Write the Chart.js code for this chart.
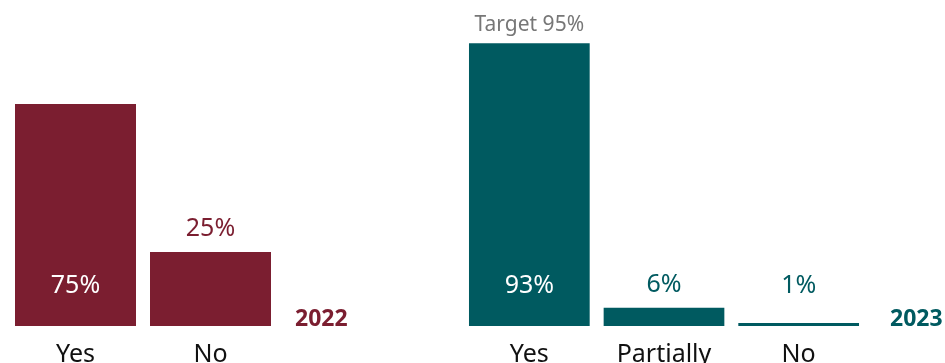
<!DOCTYPE html>
<html>
<head>
<meta charset="utf-8">
<script src="https://cdn.jsdelivr.net/npm/chart.js@4/dist/chart.umd.min.js"></script>
<style>
  html, body { margin: 0; padding: 0; background: #fff; overflow: hidden; width: 945px; height: 363px; }
  canvas { position: absolute; top: 0; }
  #c2022 { left: 0; }
  #c2023 { left: 450px; }
</style>
</head>
<body>
<canvas id="c2022" width="450" height="384"></canvas>
<canvas id="c2023" width="495" height="384"></canvas>
<script>
// 2022 survey
const labels2022 = ['Yes', 'No'];
const values2022 = [75, 25];
// 2023 survey
const labels2023 = ['Yes', 'Partially', 'No'];
const values2023 = [93, 6, 1];
const target2023 = 95;

const maroon = 'rgb(123, 30, 48)';
const teal = 'rgb(0, 90, 96)';
const fontFam = '"Noto Sans", sans-serif';

/* percentage labels: white inside tall bars, coloured above short ones */
const valueLabels = {
  id: 'valueLabels',
  afterDatasetsDraw(chart) {
    const ctx = chart.ctx;
    const ds = chart.data.datasets[0];
    chart.getDatasetMeta(0).data.forEach((bar, i) => {
      const h = bar.base - bar.y;
      const inside = h > 150;
      const y = inside ? bar.base - 40 : Math.min(bar.base - 40, bar.y - 23);
      ctx.save();
      ctx.font = '25px ' + fontFam;
      ctx.textAlign = 'center';
      ctx.textBaseline = 'middle';
      ctx.fillStyle = inside ? '#fff' : ds.backgroundColor;
      ctx.fillText(ds.data[i] + '%', bar.x, y);
      ctx.restore();
    });
  },
  afterDraw(chart, args, opts) {
    const ctx = chart.ctx;
    const area = chart.chartArea;
    ctx.save();
    ctx.font = 'bold 23px ' + fontFam;
    ctx.textAlign = 'left';
    ctx.textBaseline = 'alphabetic';
    ctx.fillStyle = opts.color;
    ctx.fillText(opts.year, area.right + opts.gap, area.bottom);
    if (opts.target) {
      const bar = chart.getDatasetMeta(0).data[0];
      const y = chart.scales.y.getPixelForValue(opts.target);
      ctx.font = '21px ' + fontFam;
      ctx.textAlign = 'center';
      ctx.fillStyle = '#777';
      ctx.fillText('Target ' + opts.target + '%', bar.x, y - 6);
    }
    ctx.restore();
  }
};

function makeChart(id, labels, values, color, pad, opts) {
  return new Chart(document.getElementById(id), {
    type: 'bar',
    data: {
      labels: labels,
      datasets: [{
        data: values,
        backgroundColor: color,
        categoryPercentage: 1,
        barPercentage: 121 / 135
      }]
    },
    options: {
      responsive: false,
      animation: false,
      layout: { padding: pad },
      plugins: {
        legend: { display: false },
        tooltip: { enabled: false },
        valueLabels: opts
      },
      scales: {
        y: { display: false, min: 0, max: 100 },
        x: {
          grid: { display: false, drawTicks: false },
          border: { display: false },
          ticks: { color: '#111', padding: 14, font: { family: fontFam, size: 25 } }
        }
      }
    },
    plugins: [valueLabels]
  });
}

makeChart('c2022', labels2022, values2022, maroon,
  { left: 8, right: 172, top: 30, bottom: 0 },
  { year: '2022', color: maroon, gap: 17 });

makeChart('c2023', labels2023, values2023, teal,
  { left: 12, right: 79, top: 22, bottom: 0 },
  { year: '2023', color: teal, gap: 24, target: target2023 });
</script>
</body>
</html>
